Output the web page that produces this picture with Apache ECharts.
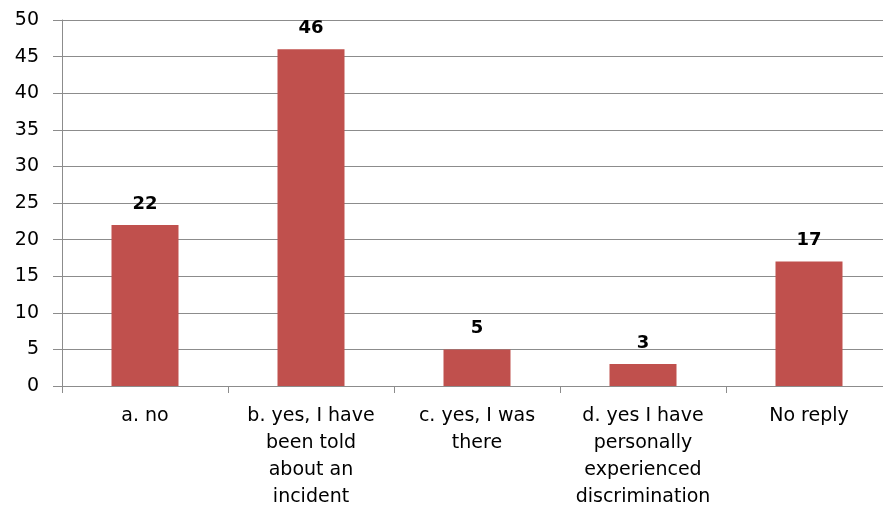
<!DOCTYPE html>
<html>
<head>
<meta charset="utf-8">
<script src="https://cdn.jsdelivr.net/npm/echarts@6/dist/echarts.min.js"></script>
<style>
  html, body { margin: 0; padding: 0; background: #fff; }
  #chart { width: 883px; height: 511px; }
</style>
</head>
<body>
<div id="chart"></div>
<script>
const categories = [
  "a. no",
  "b. yes, I have\nbeen told\nabout an\nincident",
  "c. yes, I was\nthere",
  "d. yes I have\npersonally\nexperienced\ndiscrimination",
  "No reply"
];
const values = [22, 46, 5, 3, 17];
const yTicks = { min: 0, max: 50, interval: 5 };

const chart = echarts.init(document.getElementById("chart"));
chart.setOption({
  animation: false,
  textStyle: { fontFamily: "DejaVu Sans" },
  grid: {
    left: 62, top: 20, width: 830, height: 366,
    containLabel: false,
    outerBoundsMode: "none"
  },
  xAxis: {
    type: "category",
    data: categories,
    axisLine: { lineStyle: { color: "#8c8c8c", width: 1 } },
    axisTick: { show: true, length: 7, lineStyle: { color: "#8c8c8c" } },
    axisLabel: {
      interval: 0,
      color: "#000",
      fontSize: 19,
      lineHeight: 27,
      margin: 17,
      fontFamily: "DejaVu Sans"
    }
  },
  yAxis: {
    type: "value",
    min: yTicks.min,
    max: yTicks.max,
    interval: yTicks.interval,
    axisLine: { show: true, lineStyle: { color: "#8c8c8c", width: 1 } },
    axisTick: { show: true, length: 9, lineStyle: { color: "#8c8c8c" } },
    axisLabel: { color: "#000", fontSize: 19, margin: 23, fontFamily: "DejaVu Sans" },
    splitLine: { lineStyle: { color: "#8c8c8c", width: 1 } }
  },
  series: [
    {
      type: "bar",
      data: values,
      barWidth: 67,
      itemStyle: { color: "#c0504d" },
      label: {
        show: true,
        position: "top",
        distance: 12,
        color: "#000",
        fontSize: 18,
        fontWeight: "bold",
        fontFamily: "DejaVu Sans"
      }
    }
  ]
});
</script>
</body>
</html>
